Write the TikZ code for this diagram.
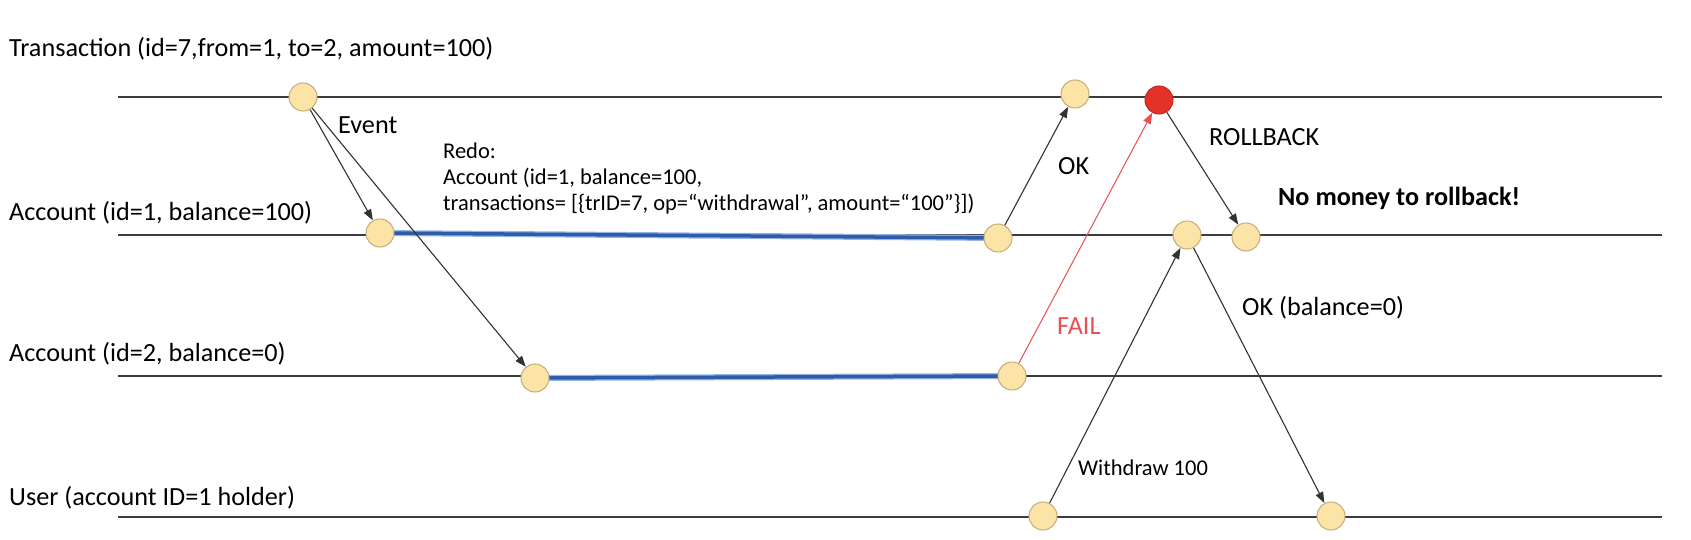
\documentclass[tikz,border=0pt]{standalone}
\usepackage{fontspec}
\setmainfont{Carlito}
\usetikzlibrary{arrows.meta}
\definecolor{evfill}{RGB}{251,228,166}
\definecolor{evborder}{RGB}{196,172,120}
\definecolor{redfill}{RGB}{228,50,40}
\definecolor{redborder}{RGB}{190,40,35}
\definecolor{linegray}{RGB}{60,60,60}
\definecolor{msggray}{RGB}{50,50,50}
\definecolor{failred}{RGB}{232,80,80}
\definecolor{bluedark}{RGB}{44,92,170}
\definecolor{bluelight}{RGB}{150,180,225}
\begin{document}
\begin{tikzpicture}[x=1pt,y=-1pt,
  lifeline/.style={draw=linegray, line width=2pt},
  ev/.style={circle, draw=evborder, fill=evfill, line width=1pt, minimum size=28pt, inner sep=0pt},
  evred/.style={ev, draw=redborder, fill=redfill},
  msg/.style={draw=msggray, line width=1.1pt, -{Triangle[length=11pt,width=8pt]}},
  failmsg/.style={draw=failred, line width=1pt, -{Triangle[length=11pt,width=8pt]}, failred},
  lbl/.style={anchor=base west, inner sep=0pt, font=\fontsize{26.2pt}{30pt}\selectfont},
  smalllbl/.style={anchor=base west, inner sep=0pt, align=left, font=\fontsize{22.5pt}{26pt}\selectfont},
  blueband/.style={line width=6pt, draw=bluelight},
  bluecore/.style={line width=3.5pt, draw=bluedark}
]
\useasboundingbox[fill=white] (0,0) rectangle (1691,540);

% lifelines
\coordinate (l1s) at (118,97);  \coordinate (l1e) at (1662,97);
\coordinate (l2s) at (118,235); \coordinate (l2e) at (1662,235);
\coordinate (l3s) at (118,376); \coordinate (l3e) at (1662,376);
\coordinate (l4s) at (118,517); \coordinate (l4e) at (1662,517);
\draw[lifeline] (l1s) -- (l1e);
\draw[lifeline] (l2s) -- (l2e);
\draw[lifeline] (l3s) -- (l3e);
\draw[lifeline] (l4s) -- (l4e);

% lifeline labels
\node[lbl] (tTr) at (9,57) {Transaction (id=7,from=1, to=2, amount=100)};
\node[lbl] (tA1) at (9,221) {Account (id=1, balance=100)};
\node[lbl] (tA2) at (9,361) {Account (id=2, balance=0)};
\node[lbl] (tU) at (9,505) {User (account ID=1 holder)};

% blue redo lines (behind events)
\coordinate (b1s) at (380,233); \coordinate (b1e) at (998,238);
\coordinate (b2s) at (535,378); \coordinate (b2e) at (1012,376);
\draw[blueband] (b1s) -- (b1e);
\draw[bluecore] (b1s) -- (b1e);
\draw[blueband] (b2s) -- (b2e);
\draw[bluecore] (b2s) -- (b2e);

% events
\node[ev] (T1) at (303,97) {};
\node[ev] (T2) at (1075,94) {};
\node[evred] (TR) at (1159,100) {};
\node[ev] (A1a) at (380,233) {};
\node[ev] (A1b) at (998,238) {};
\node[ev] (A1c) at (1187,235) {};
\node[ev] (A1d) at (1246,237) {};
\node[ev] (A2a) at (535,378) {};
\node[ev] (A2b) at (1012,376) {};
\node[ev] (U1) at (1043,516) {};
\node[ev] (U2) at (1331,516) {};

% messages
\draw[msg] (T1) -- (A1a);
\draw[msg] (T1) -- (A2a);
\draw[msg] (A1b) -- (T2);
\draw[failmsg] (A2b) -- (TR);
\draw[msg] (TR) -- (A1d);
\draw[msg] (U1) -- (A1c);
\draw[msg] (A1c) -- (U2);

% message labels
\node[lbl] (tEv) at (338,134) {Event};
\node[smalllbl] (tRedo) at (443,211) {Redo:\\Account (id=1, balance=100,\\transactions= [\{trID=7, op=“withdrawal”, amount=“100”\}])};
\node[lbl] (tOK) at (1058,175) {OK};
\node[lbl] (tRB) at (1209,146) {ROLLBACK};
\node[lbl, font=\fontsize{26.2pt}{30pt}\selectfont\bfseries] (tNM) at (1278,206) {No money to rollback!};
\node[lbl] (tOKb) at (1242,315) {OK (balance=0)};
\node[lbl, text=failred] (tFail) at (1057,334) {FAIL};
\node[smalllbl] (tWd) at (1078,475) {Withdraw 100};
\end{tikzpicture}
\end{document}
